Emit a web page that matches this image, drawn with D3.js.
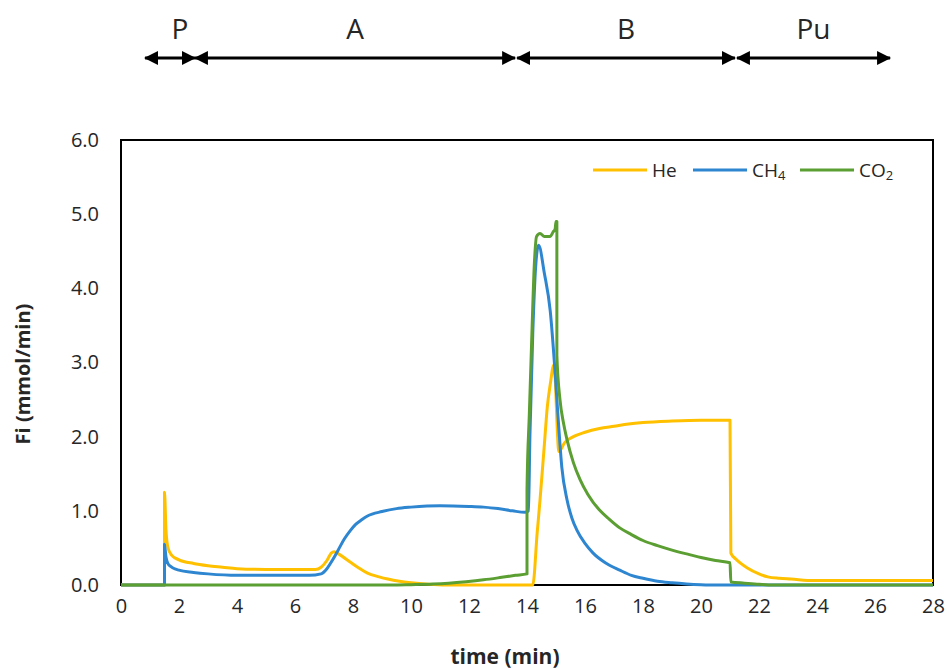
<!DOCTYPE html>
<html>
<head>
<meta charset="utf-8">
<script src="https://cdn.jsdelivr.net/npm/d3@7"></script>
<style>
  html, body { margin: 0; padding: 0; background: #fff; }
  svg { display: block; }
  text { font-family: "Open Sans", "Liberation Sans", sans-serif; fill: #262626; }
</style>
</head>
<body>
<svg id="chart" width="949" height="669"></svg>
<script>
// Gas flow rates (mmol/min) over one cycle, as [time (min), value] pairs
const heData = [
  [0, 0], [1.5, 0], [1.5, 1.25], [1.55, 0.75], [1.62, 0.5], [1.75, 0.4], [2.0, 0.34],
  [2.5, 0.29], [3.0, 0.26], [3.5, 0.24], [4.0, 0.22], [5.0, 0.21], [6.0, 0.21],
  [6.7, 0.21], [6.9, 0.24], [7.1, 0.33], [7.25, 0.43], [7.35, 0.45], [7.5, 0.42],
  [7.9, 0.31], [8.2, 0.23], [8.5, 0.16], [8.9, 0.11], [9.2, 0.08], [9.6, 0.05],
  [10, 0.03], [10.6, 0.01], [11.2, 0], [14.2, 0], [14.35, 0.7], [14.45, 1.15],
  [14.6, 1.9], [14.7, 2.4], [14.8, 2.7], [14.93, 2.97], [15.1, 1.8], [15.3, 1.92],
  [15.6, 2.0], [16, 2.06], [16.5, 2.11], [17, 2.14], [17.5, 2.17], [18, 2.19],
  [19, 2.21], [20, 2.22], [21.0, 2.22], [21.03, 0.43], [21.2, 0.35], [21.6, 0.23],
  [22, 0.15], [22.3, 0.11], [22.7, 0.09], [23.1, 0.08], [23.9, 0.06], [28, 0.06]
];
const ch4Data = [
  [0, 0], [1.5, 0], [1.5, 0.55], [1.55, 0.38], [1.65, 0.27], [2.0, 0.2], [2.5, 0.17],
  [3.0, 0.15], [4, 0.13], [5, 0.13], [6.5, 0.13], [6.9, 0.15], [7.1, 0.22],
  [7.3, 0.34], [7.5, 0.48], [7.7, 0.62], [7.9, 0.73], [8.1, 0.82], [8.3, 0.88],
  [8.5, 0.93], [9.0, 0.99], [9.5, 1.03], [10, 1.05], [11, 1.07], [12, 1.06],
  [12.5, 1.05], [13, 1.03], [13.5, 1.0], [13.93, 0.98], [14.05, 1.0], [14.1, 2.0],
  [14.2, 3.4], [14.3, 4.3], [14.4, 4.58], [14.6, 4.2], [14.8, 3.7], [14.97, 2.86],
  [15.07, 2.27], [15.2, 1.59], [15.38, 1.15], [15.55, 0.9], [15.72, 0.74], [16, 0.56],
  [16.28, 0.43], [16.7, 0.3], [17.2, 0.2], [17.6, 0.13], [18, 0.09], [18.5, 0.05],
  [19, 0.03], [19.5, 0.015], [20, 0.005], [20.5, 0], [28, 0]
];
const co2Data = [
  [0, 0], [9.3, 0], [10, 0.005], [10.76, 0.013], [11.3, 0.025], [11.9, 0.045],
  [12.5, 0.07], [13.07, 0.1], [13.6, 0.13], [14.0, 0.15], [14.0, 1.28], [14.08, 2.3],
  [14.17, 3.4], [14.25, 4.3], [14.33, 4.7], [14.45, 4.74], [14.6, 4.7], [14.8, 4.7],
  [14.9, 4.76], [14.97, 4.8], [15.0, 4.9], [15.03, 4.9], [15.03, 3.1], [15.14, 2.49],
  [15.25, 2.2], [15.38, 1.96], [15.6, 1.65], [15.83, 1.42], [16.1, 1.22], [16.5, 1.01],
  [16.8, 0.9], [17.2, 0.77], [17.6, 0.68], [18, 0.6], [18.5, 0.53], [19, 0.47],
  [19.28, 0.44], [19.6, 0.41], [20, 0.37], [20.5, 0.33], [21, 0.3], [21.03, 0.04],
  [21.5, 0.025], [22, 0.01], [22.5, 0], [28, 0]
];

const xTicks = [0, 2, 4, 6, 8, 10, 12, 14, 16, 18, 20, 22, 24, 26, 28];
const yTicks = [0, 1, 2, 3, 4, 5, 6];

// Process steps shown above the plot: [label, start (min), end (min)]
const phaseNames = ["P", "A", "B", "Pu"];
const phaseStart = [0.83, 2.55, 13.66, 21.24];
const phaseEnd = [2.55, 13.59, 21.17, 26.52];

const seriesNames = ["He", "CH4", "CO2"];
const seriesColors = ["#FFC000", "#2E86D1", "#5B9E32"];

const svg = d3.select("#chart");
const margin = { left: 121, right: 16, top: 140, bottom: 84 };
const W = 949, H = 669;

const x = d3.scaleLinear().domain([0, 28]).range([margin.left, W - margin.right]);
const y = d3.scaleLinear().domain([0, 6]).range([H - margin.bottom, margin.top]);

// Plot frame
svg.append("rect")
  .attr("x", x(0)).attr("y", y(6))
  .attr("width", x(28) - x(0)).attr("height", y(0) - y(6))
  .attr("fill", "none").attr("stroke", "#000").attr("stroke-width", 2);

// Axes (labels only, no tick marks)
const xAxis = svg.append("g")
  .attr("transform", `translate(0,${y(0)})`)
  .call(d3.axisBottom(x).tickValues(xTicks).tickSize(0).tickPadding(14).tickFormat(d3.format("d")));
xAxis.select(".domain").remove();
xAxis.selectAll("text").attr("font-size", 20).attr("fill", "#262626")
  .attr("font-family", "Open Sans, sans-serif");

const yAxis = svg.append("g")
  .attr("transform", `translate(${x(0)},0)`)
  .call(d3.axisLeft(y).tickValues(yTicks).tickSize(0).tickPadding(22).tickFormat(d3.format(".1f")));
yAxis.select(".domain").remove();
yAxis.selectAll("text").attr("font-size", 20).attr("fill", "#262626")
  .attr("font-family", "Open Sans, sans-serif");

// Axis titles
svg.append("text")
  .attr("x", 505).attr("y", 664)
  .attr("text-anchor", "middle")
  .attr("font-size", 21).attr("font-weight", "bold")
  .text("time (min)");

svg.append("text")
  .attr("transform", "translate(30,374) rotate(-90)")
  .attr("text-anchor", "middle")
  .attr("font-size", 20).attr("font-weight", "bold")
  .text("Fi (mmol/min)");

// Data lines
const line = d3.line().curve(d3.curveMonotoneX).x(d => x(d[0])).y(d => y(d[1]));
[heData, ch4Data, co2Data].forEach((data, i) => {
  svg.append("path")
    .datum(data)
    .attr("d", line)
    .attr("fill", "none")
    .attr("stroke", seriesColors[i])
    .attr("stroke-width", 3)
    .attr("stroke-linejoin", "round");
});

// Legend
const legendX = [593, 693, 800];
const legendY = 170;
seriesNames.forEach((name, i) => {
  const g = svg.append("g");
  g.append("line")
    .attr("x1", legendX[i]).attr("x2", legendX[i] + 54)
    .attr("y1", legendY).attr("y2", legendY)
    .attr("stroke", seriesColors[i]).attr("stroke-width", 3);
  const t = g.append("text")
    .attr("x", legendX[i] + 59).attr("y", legendY + 7)
    .attr("font-size", 19);
  const m = name.match(/^([A-Za-z]+?)(\d*)$/);
  t.append("tspan").text(m[1]);
  if (m[2]) {
    t.append("tspan").attr("font-size", 13).attr("dy", 3).text(m[2]);
  }
});

// Phase arrows above the plot
const defs = svg.append("defs");
defs.append("marker")
  .attr("id", "head")
  .attr("viewBox", "0 0 14 14")
  .attr("refX", 13).attr("refY", 7)
  .attr("markerWidth", 14).attr("markerHeight", 14)
  .attr("markerUnits", "userSpaceOnUse")
  .attr("orient", "auto-start-reverse")
  .append("path").attr("d", "M0,0 L14,7 L0,14 Z").attr("fill", "#000");

const arrowY = 58;
phaseNames.forEach((name, i) => {
  svg.append("line")
    .attr("x1", x(phaseStart[i])).attr("x2", x(phaseEnd[i]))
    .attr("y1", arrowY).attr("y2", arrowY)
    .attr("stroke", "#000").attr("stroke-width", 3)
    .attr("marker-start", "url(#head)")
    .attr("marker-end", "url(#head)");
  svg.append("text")
    .attr("x", (x(phaseStart[i]) + x(phaseEnd[i])) / 2 + (i === 0 ? 10 : 0))
    .attr("y", 39)
    .attr("text-anchor", "middle")
    .attr("font-size", 28)
    .attr("fill", "#000")
    .text(name);
});
</script>
</body>
</html>
